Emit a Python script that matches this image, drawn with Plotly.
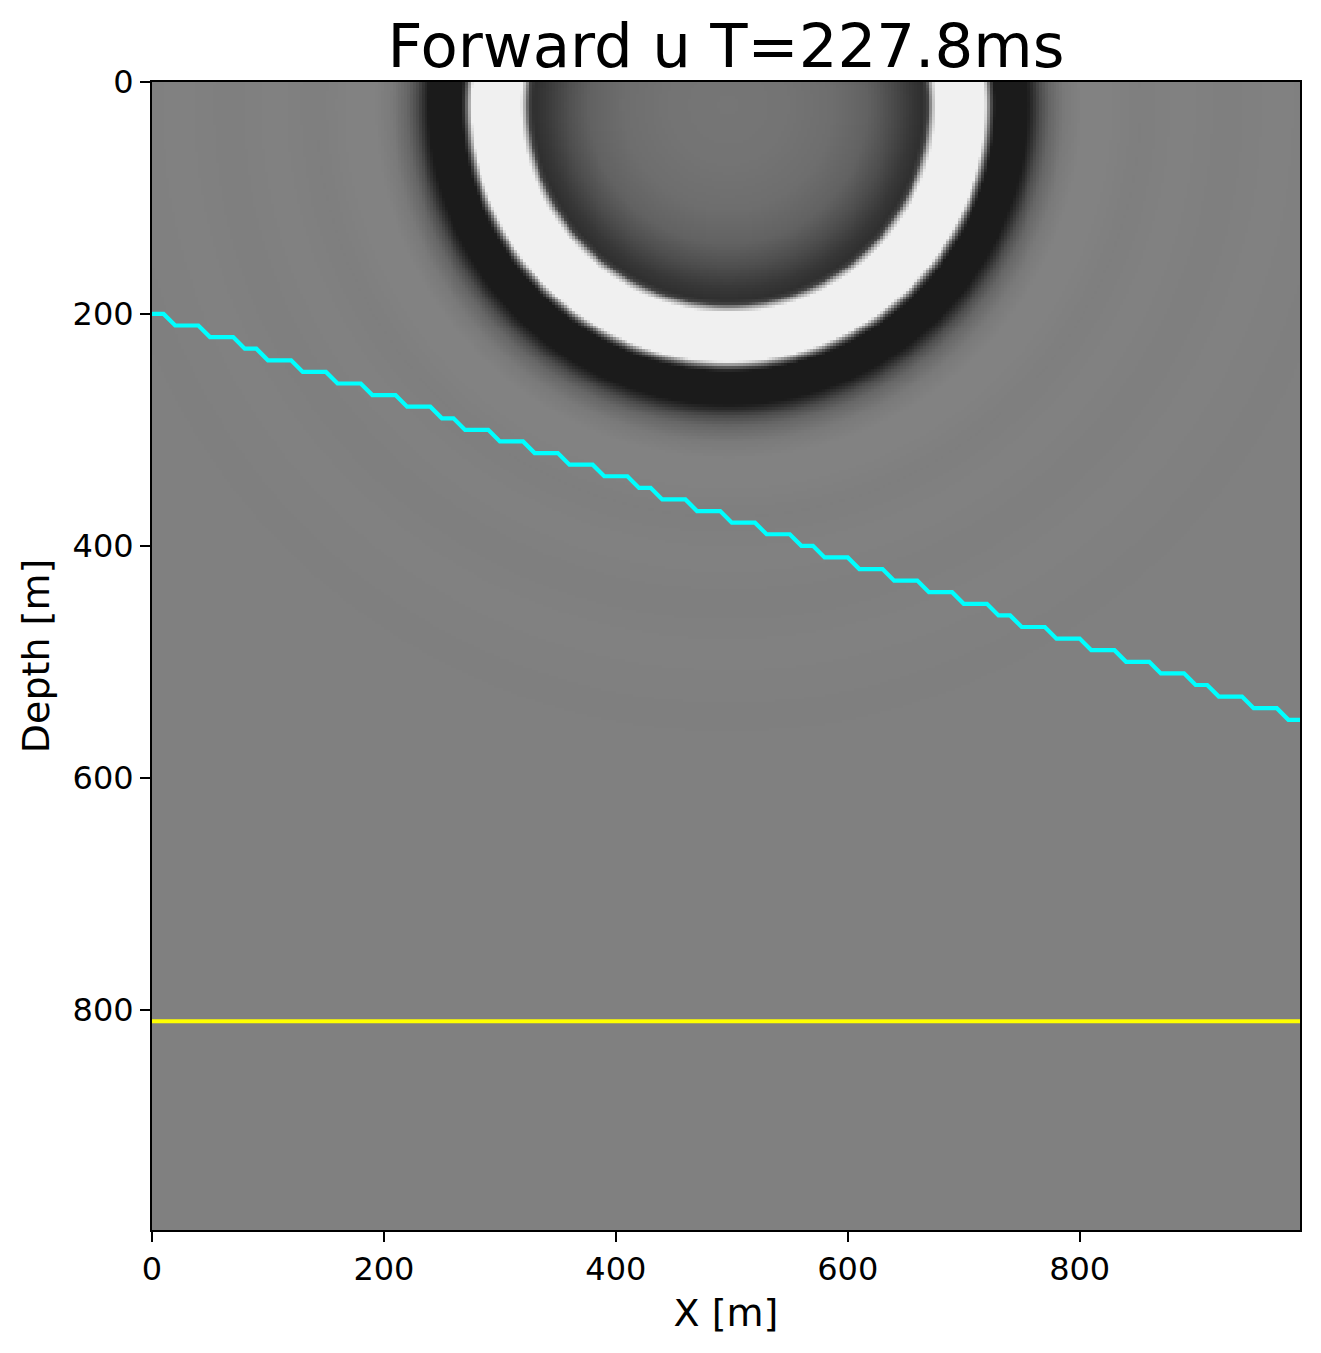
import numpy as np
import plotly.graph_objects as go

# ---- data ----
X_EXTENT = 990.0          # m
Z_EXTENT = 990.0          # m
SOURCE_X = 497.0          # m (centre of the wavefront)
SOURCE_Z = 20.0           # m

# radial amplitude profile of the wavefield snapshot (distance from source [m] -> normalised u)
PROFILE_R = [0, 50, 90, 120, 140, 158, 168, 172, 175, 179, 221, 224, 227, 230, 257,
             263, 269, 277, 290, 305, 325, 355, 390, 430, 470, 520, 600, 2000]
PROFILE_V = [-0.10, -0.12, -0.18, -0.30, -0.50, -0.72, -0.80, -0.60, 0.30, 1.05, 1.05,
             0.20, -0.60, -1.05, -1.05, -0.80, -0.50, -0.25, -0.06, 0.02, 0.02, -0.015,
             0.012, -0.012, 0.01, -0.006, 0.0, 0.0]

# reflector (cyan) sampled every 10 m
LINE_X = list(range(0, 1000, 10))
CYAN_DEPTH = [200, 200, 210, 210, 210, 220, 220, 220, 230, 230,
              240, 240, 240, 250, 250, 250, 260, 260, 260, 270,
              270, 270, 280, 280, 280, 290, 290, 300, 300, 300,
              310, 310, 310, 320, 320, 320, 330, 330, 330, 340,
              340, 340, 350, 350, 360, 360, 360, 370, 370, 370,
              380, 380, 380, 390, 390, 390, 400, 400, 410, 410,
              410, 420, 420, 420, 430, 430, 430, 440, 440, 440,
              450, 450, 450, 460, 460, 470, 470, 470, 480, 480,
              480, 490, 490, 490, 500, 500, 500, 510, 510, 510,
              520, 520, 530, 530, 530, 540, 540, 540, 550, 550]

# receiver line (yellow)
YELLOW_X = [0, 990]
YELLOW_DEPTH = [810, 810]

X_TICKS = [0, 200, 400, 600, 800]
Z_TICKS = [0, 200, 400, 600, 800]

TITLE = "Forward u T=227.8ms"

# ---- build the field on a fine grid ----
dx = 2.5
xc = np.arange(dx / 2, X_EXTENT, dx)
zc = np.arange(dx / 2, Z_EXTENT, dx)
XX, ZZ = np.meshgrid(xc, zc)
RR = np.sqrt((XX - SOURCE_X) ** 2 + (ZZ - SOURCE_Z) ** 2)
U = np.round(np.interp(RR, PROFILE_R, PROFILE_V), 3)

gray_scale = [[0.0, "rgb(27,27,27)"], [0.5, "rgb(128,128,128)"], [1.0, "rgb(240,240,240)"]]

fig = go.Figure()
fig.add_trace(go.Heatmap(
    x=xc, y=zc, z=U, zmin=-1, zmax=1, colorscale=gray_scale,
    showscale=False, hoverinfo="skip", zsmooth=False,
))
fig.add_trace(go.Scatter(
    x=LINE_X, y=CYAN_DEPTH, mode="lines",
    line=dict(color="rgb(0,255,255)", width=4.2), hoverinfo="skip", showlegend=False,
))
fig.add_trace(go.Scatter(
    x=YELLOW_X, y=YELLOW_DEPTH, mode="lines",
    line=dict(color="rgb(255,255,0)", width=4.2), hoverinfo="skip", showlegend=False,
))

FONT = "DejaVu Sans"
axis_common = dict(
    showgrid=False, zeroline=False, showline=True, linecolor="black", linewidth=2,
    mirror=True, ticks="outside", ticklen=10, tickwidth=2, tickcolor="black",
    tickfont=dict(family=FONT, size=32, color="black"),
    ticklabelstandoff=0,
)

W, H = 1313, 1345   # page body has an 8 px margin
fig.update_layout(
    width=W, height=H,
    margin=dict(l=144, r=21, t=74, b=123),
    paper_bgcolor="white", plot_bgcolor="white",
    showlegend=False,
    title=dict(text=TITLE, x=0.5, xref="paper", y=1 - 38 / H, yref="container",
               yanchor="middle", xanchor="center",
               font=dict(family=FONT, size=61, color="black")),
    xaxis=dict(range=[0, X_EXTENT], tickvals=X_TICKS,
               title=dict(text="X [m]", font=dict(family=FONT, size=38, color="black"), standoff=12),
               **axis_common),
    yaxis=dict(range=[Z_EXTENT, 0], tickvals=Z_TICKS,
               title=dict(text="Depth [m]", font=dict(family=FONT, size=38, color="black"), standoff=11),
               **axis_common),
)

fig.write_html("out.html")
